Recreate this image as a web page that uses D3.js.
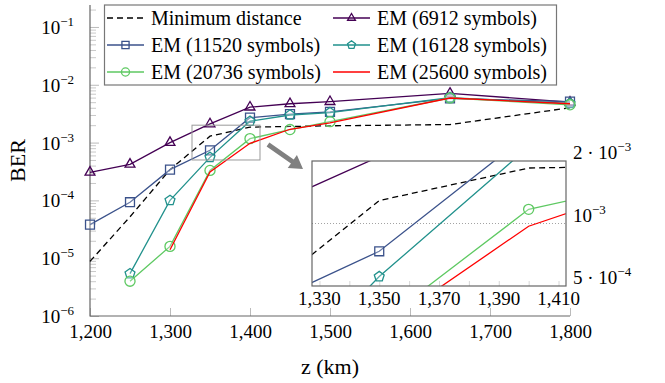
<!DOCTYPE html>
<html>
<head>
<meta charset="utf-8">
<script src="https://cdn.jsdelivr.net/npm/d3@7"></script>
<style>
  html, body { margin: 0; padding: 0; background: #fff; }
  svg, svg text { font-family: "Liberation Serif", "DejaVu Serif", "Times New Roman", Times, serif; }
</style>
</head>
<body>
<div id="chart"></div>
<script>
// distance z (km)
const zValues = [1200, 1250, 1300, 1350, 1400, 1450, 1500, 1650, 1800];

// BER per series, null where the series has no point
const berMinDistance = [8.8e-6, 5.2e-5, 3.4e-4, 1.29e-3, 1.85e-3, 1.9e-3, 1.95e-3, 2.05e-3, 4.0e-3];
const berEm6912 = [3.06e-4, 4.2e-4, 1.0e-3, 2.1e-3, 4.1e-3, 4.7e-3, 5.1e-3, 7.1e-3, 5.0e-3];
const berEm11520 = [3.8e-5, 9.3e-5, 3.4e-4, 7.35e-4, 2.7e-3, 3.1e-3, 3.4e-3, 5.8e-3, 5.1e-3];
const berEm16128 = [null, 5.4e-6, 1.0e-4, 5.55e-4, 2.34e-3, 3.0e-3, 3.3e-3, 6.0e-3, 4.75e-3];
const berEm20736 = [null, 4.0e-6, 1.6e-5, 3.3e-4, 1.17e-3, 1.68e-3, 2.3e-3, 5.9e-3, 4.5e-3];
const berEm25600 = [null, null, 1.4e-5, 3.1e-4, 9.7e-4, 1.7e-3, 2.2e-3, 5.9e-3, 4.7e-3];

const seriesLabels = ['Minimum distance', 'EM (6912 symbols)', 'EM (11520 symbols)',
    'EM (16128 symbols)', 'EM (20736 symbols)', 'EM (25600 symbols)'];

// tick values
const xTicks = [1200, 1300, 1400, 1500, 1600, 1700, 1800];
const yTickExponents = [-6, -5, -4, -3, -2, -1];
const insetXTicks = [1330, 1350, 1370, 1390, 1410];
const insetYTicks = [{ v: 2e-3, m: '2 · ', e: '−3' }, { v: 1e-3, m: '', e: '−3' }, { v: 5e-4, m: '5 · ', e: '−4' }];

// zoom window
const zoomX = [1327.5, 1412.5];
const zoomY = [5e-4, 2e-3];

const FONT = '"Liberation Serif", "DejaVu Serif", "Times New Roman", Times, serif';

const series = [
    { values: berMinDistance, color: '#000', dash: '6,4', marker: null },
    { values: berEm6912, color: '#440154', dash: null, marker: 'triangle' },
    { values: berEm11520, color: '#3b528b', dash: null, marker: 'square' },
    { values: berEm16128, color: '#21918c', dash: null, marker: 'pentagon' },
    { values: berEm20736, color: '#5ec962', dash: null, marker: 'circle' },
    { values: berEm25600, color: '#ff0000', dash: null, marker: null },
].map((s, i) => ({
    ...s,
    label: seriesLabels[i],
    points: zValues.map((z, j) => ({ z, v: s.values[j] })).filter(p => p.v !== null)
}));

const width = 665, height = 383;
const plot = { left: 90, right: 570, top: 5, bottom: 316 };
const inset = { left: 312, right: 566, top: 161, bottom: 286 };

const x = d3.scaleLinear().domain([1200, 1800]).range([plot.left, plot.right]);
const y = d3.scaleLog().domain([1e-6, Math.pow(10, -0.62)]).range([plot.bottom, plot.top]);

const xi = d3.scaleLinear().domain(zoomX).range([inset.left, inset.right]);
const yi = d3.scaleLog().domain(zoomY).range([inset.bottom, inset.top]);

const svg = d3.select('#chart').append('svg')
    .attr('width', width)
    .attr('height', height)
    .attr('font-family', FONT);

function pentagonPath(r) {
    const pts = d3.range(5).map(k => {
        const a = -Math.PI / 2 + k * 2 * Math.PI / 5;
        return [r * Math.cos(a), r * Math.sin(a)];
    });
    return 'M' + pts.map(p => p.join(',')).join('L') + 'Z';
}

function markerPath(kind, scale) {
    if (kind === 'square') return d3.symbol(d3.symbolSquare, 80 * scale * scale)();
    if (kind === 'circle') return d3.symbol(d3.symbolCircle, 80 * scale * scale)();
    if (kind === 'triangle') return d3.symbol(d3.symbolTriangle, 42 * scale * scale)();
    if (kind === 'pentagon') return pentagonPath(5.2 * scale);
    return null;
}

function drawSeries(g, sx, sy, s) {
    const line = d3.line().x(d => sx(d.z)).y(d => sy(d.v));
    g.append('path')
        .datum(s.points)
        .attr('d', line)
        .attr('fill', 'none')
        .attr('stroke', s.color)
        .attr('stroke-width', 1.3)
        .attr('stroke-dasharray', s.dash);
    if (s.marker) {
        g.selectAll(null)
            .data(s.points)
            .join('path')
            .attr('transform', d => `translate(${sx(d.z)},${sy(d.v)})`)
            .attr('d', markerPath(s.marker, 1))
            .attr('fill', s.marker === 'triangle' ? 'none' : 'rgba(255,255,255,0.25)')
            .attr('stroke', s.color)
            .attr('stroke-width', 1.3);
    }
}

// ---- main axes ----
const minorValues = [];
yTickExponents.slice(0, -1).forEach(e => {
    for (let k = 2; k <= 9; k++) minorValues.push(k * Math.pow(10, e));
});
for (let k = 2; k <= 9; k++) {
    const v = k * 0.1;
    if (v <= y.domain()[1]) minorValues.push(v);
}

svg.append('g')
    .attr('transform', `translate(${plot.left},0)`)
    .call(d3.axisRight(y).tickValues(minorValues).tickSize(6).tickFormat(''))
    .call(g => g.select('.domain').remove())
    .call(g => g.selectAll('.tick line').attr('stroke', '#bbb').attr('stroke-width', 0.8));

svg.append('g')
    .attr('transform', `translate(${plot.left},0)`)
    .call(d3.axisRight(y).tickValues(yTickExponents.map(e => Math.pow(10, e))).tickSize(9).tickFormat(''))
    .call(g => g.select('.domain').remove())
    .call(g => g.selectAll('.tick line').attr('stroke', '#aaa').attr('stroke-width', 0.8));

// y tick labels 10^e
const yLabels = svg.append('g')
    .attr('font-family', FONT)
    .attr('font-size', 19)
    .attr('fill', '#000')
    .attr('text-anchor', 'end');
yTickExponents.forEach(e => {
    const t = yLabels.append('text')
        .attr('x', 74)
        .attr('y', y(Math.pow(10, e)) + 7);
    t.append('tspan').text('10');
    t.append('tspan')
        .attr('font-size', 13)
        .attr('dy', -8)
        .text('−' + Math.abs(e));
});

svg.append('g')
    .attr('transform', `translate(0,${plot.bottom})`)
    .call(d3.axisBottom(x).tickValues(xTicks).tickSize(-8).tickPadding(9).tickFormat(d3.format(',')))
    .attr('font-family', FONT)
    .call(g => g.select('.domain').remove())
    .call(g => g.selectAll('.tick line').attr('stroke', '#aaa').attr('stroke-width', 0.8))
    .call(g => g.selectAll('.tick text')
        .attr('font-size', 19)
        .attr('fill', '#000'));

// axis lines (left and bottom)
svg.append('path')
    .attr('d', `M${plot.left},${plot.top}V${plot.bottom}H${plot.right}`)
    .attr('fill', 'none')
    .attr('stroke', '#666')
    .attr('stroke-width', 1.2);

// ---- data ----
const main = svg.append('g').attr('class', 'main-series');
series.forEach(s => drawSeries(main, x, y, s));

// zoom window rectangle
svg.append('rect')
    .attr('x', x(zoomX[0]))
    .attr('y', y(zoomY[1]))
    .attr('width', x(zoomX[1]) - x(zoomX[0]))
    .attr('height', y(zoomY[0]) - y(zoomY[1]))
    .attr('fill', 'none')
    .attr('stroke', '#999')
    .attr('stroke-width', 1);

// arrow from zoom window to inset
{
    const x0 = x(zoomX[1]) + 8, y0 = (y(zoomY[0]) + y(zoomY[1])) / 2 + 2;
    const x1 = inset.left - 9, y1 = inset.top + 8;
    const ang = Math.atan2(y1 - y0, x1 - x0);
    const len = Math.hypot(x1 - x0, y1 - y0);
    const head = 13, hw = 8, sw = 2.4;
    const pts = [[0, -sw], [len - head, -sw], [len - head, -hw], [len, 0], [len - head, hw], [len - head, sw], [0, sw]];
    svg.append('path')
        .attr('d', 'M' + pts.map(p => p.join(',')).join('L') + 'Z')
        .attr('transform', `translate(${x0},${y0}) rotate(${ang * 180 / Math.PI})`)
        .attr('fill', '#808080');
}

// ---- inset ----
const clip = svg.append('defs').append('clipPath').attr('id', 'inset-clip');
clip.append('rect')
    .attr('x', inset.left)
    .attr('y', inset.top)
    .attr('width', inset.right - inset.left)
    .attr('height', inset.bottom - inset.top);

svg.append('rect')
    .attr('x', inset.left)
    .attr('y', inset.top)
    .attr('width', inset.right - inset.left)
    .attr('height', inset.bottom - inset.top)
    .attr('fill', '#fff');

svg.append('g')
    .attr('transform', `translate(0,${inset.bottom})`)
    .call(d3.axisBottom(xi).tickValues(d3.range(1330, 1411, 10)).tickSize(-5).tickFormat(''))
    .call(g => g.select('.domain').remove())
    .call(g => g.selectAll('.tick line').attr('stroke', '#ccc').attr('stroke-width', 0.8));

const insetG = svg.append('g').attr('clip-path', 'url(#inset-clip)');

insetG.append('line')
    .attr('x1', inset.left)
    .attr('x2', inset.right)
    .attr('y1', yi(1e-3))
    .attr('y2', yi(1e-3))
    .attr('stroke', '#999')
    .attr('stroke-width', 0.9)
    .attr('stroke-dasharray', '1,2');

series.forEach(s => drawSeries(insetG, xi, yi, s));

svg.append('rect')
    .attr('x', inset.left)
    .attr('y', inset.top)
    .attr('width', inset.right - inset.left)
    .attr('height', inset.bottom - inset.top)
    .attr('fill', 'none')
    .attr('stroke', '#666')
    .attr('stroke-width', 1.2);

svg.append('g')
    .attr('font-family', FONT)
    .attr('font-size', 19)
    .attr('text-anchor', 'middle')
    .selectAll('text')
    .data(insetXTicks)
    .join('text')
    .attr('x', d => xi(d))
    .attr('y', inset.bottom + 19)
    .text(d3.format(','));

const insetYLabels = svg.append('g').attr('font-family', FONT).attr('font-size', 19);
insetYTicks.forEach(t => {
    const txt = insetYLabels.append('text')
        .attr('x', inset.right + 7)
        .attr('y', yi(t.v) - 2);
    txt.append('tspan').text(t.m + '10');
    txt.append('tspan').attr('font-size', 13).attr('dy', -8).text(t.e);
});

// ---- legend ----
const legend = svg.append('g')
    .attr('class', 'legend')
    .attr('font-family', FONT)
    .attr('font-size', 20);

legend.append('rect')
    .attr('x', 104.5)
    .attr('y', 5)
    .attr('width', 452)
    .attr('height', 80)
    .attr('fill', '#fff')
    .attr('stroke', '#777')
    .attr('stroke-width', 1.2);

const legendCols = [107, 333];
const legendRows = [18, 45, 72];
series.forEach((s, k) => {
    const lx = legendCols[k % 2];
    const ly = legendRows[Math.floor(k / 2)];
    legend.append('line')
        .attr('x1', lx)
        .attr('x2', lx + 37)
        .attr('y1', ly)
        .attr('y2', ly)
        .attr('stroke', s.color)
        .attr('stroke-width', 1.3)
        .attr('stroke-dasharray', s.dash);
    if (s.marker) {
        legend.append('path')
            .attr('transform', `translate(${lx + 18.5},${ly})`)
            .attr('d', markerPath(s.marker, 0.8))
            .attr('fill', 'none')
            .attr('stroke', s.color)
            .attr('stroke-width', 1.3);
    }
    legend.append('text')
        .attr('x', lx + 44)
        .attr('y', ly + 6.5)
        .text(s.label);
});

// ---- axis titles ----
svg.append('text')
    .attr('transform', `translate(25,${(plot.top + plot.bottom) / 2}) rotate(-90)`)
    .attr('text-anchor', 'middle')
    .attr('font-family', FONT)
    .attr('font-size', 22)
    .text('BER');

svg.append('text')
    .attr('x', (plot.left + plot.right) / 2)
    .attr('y', 374)
    .attr('text-anchor', 'middle')
    .attr('font-family', FONT)
    .attr('font-size', 22)
    .text('z (km)');
</script>
</body>
</html>
